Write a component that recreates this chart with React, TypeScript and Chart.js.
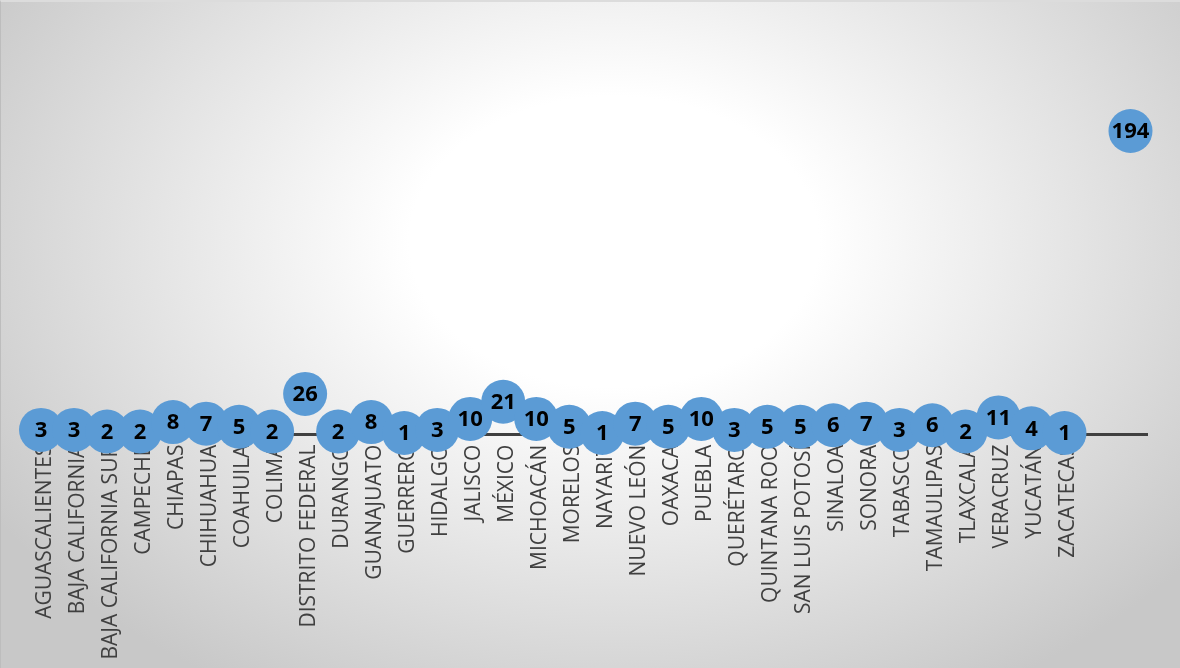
import React, { useEffect, useRef } from "react";
import { Chart, registerables } from "chart.js";

Chart.register(...registerables);

const categories: string[] = [
  "AGUASCALIENTES", "BAJA CALIFORNIA", "BAJA CALIFORNIA SUR", "CAMPECHE", "CHIAPAS",
  "CHIHUAHUA", "COAHUILA", "COLIMA", "DISTRITO FEDERAL", "DURANGO", "GUANAJUATO",
  "GUERRERO", "HIDALGO", "JALISCO", "MÉXICO", "MICHOACÁN", "MORELOS", "NAYARIT",
  "NUEVO LEÓN", "OAXACA", "PUEBLA", "QUERÉTARO", "QUINTANA ROO", "SAN LUIS POTOSÍ",
  "SINALOA", "SONORA", "TABASCO", "TAMAULIPAS", "TLAXCALA", "VERACRUZ", "YUCATÁN",
  "ZACATECAS", "", "",
];

const values: (number | null)[] = [
  3, 3, 2, 2, 8, 7, 5, 2, 26, 2, 8, 1, 3, 10, 21, 10, 5, 1, 7, 5, 10, 3, 5, 5, 6, 7, 3, 6,
  2, 11, 4, 1, null, 194,
];

const yMin = 0;
const yMax = 200;

const W = 1180;
const H = 668;
const AXIS_Y = 432.6;

const labelPlugin = {
  id: "pointLabels",
  afterDatasetsDraw(chart: any) {
    const ctx = chart.ctx;
    const meta = chart.getDatasetMeta(0);
    ctx.save();
    ctx.font = "bold 22px 'Open Sans'";
    ctx.fillStyle = "#000000";
    ctx.textAlign = "center";
    ctx.textBaseline = "middle";
    meta.data.forEach((pt: any, i: number) => {
      const v = values[i];
      if (v === null || v === undefined) return;
      ctx.fillText(String(v), pt.x, pt.y + 1);
    });
    ctx.restore();
  },
};

export default function App() {
  const ref = useRef<HTMLCanvasElement | null>(null);

  useEffect(() => {
    if (!ref.current) return;
    const chart = new Chart(ref.current, {
      type: "line",
      data: {
        labels: categories,
        datasets: [
          {
            data: values,
            showLine: false,
            pointRadius: 22,
            pointHoverRadius: 22,
            pointBackgroundColor: "#5B9BD5",
            pointBorderColor: "#5B9BD5",
            pointBorderWidth: 0,
            clip: false as any,
          },
        ],
      },
      options: {
        responsive: false,
        animation: false,
        layout: {
          padding: { left: 23.5, right: 34, top: AXIS_Y - 313, bottom: 0 },
        },
        plugins: {
          legend: { display: false },
          tooltip: { enabled: false },
          title: { display: false },
        },
        scales: {
          y: {
            display: false,
            min: yMin,
            max: yMax,
          },
          x: {
            offset: true,
            grid: { display: false, drawTicks: false },
            border: { display: true, color: "#404040", width: 3 },
            afterFit: (scale: any) => {
              scale.height = H - AXIS_Y;
            },
            ticks: {
              autoSkip: false,
              minRotation: 90,
              maxRotation: 90,
              padding: 10,
              labelOffset: 4,
              color: "#404040",
              font: { family: "'Open Sans'", size: 21 },
            },
          },
        },
      },
      plugins: [labelPlugin],
    });
    return () => chart.destroy();
  }, []);

  return (
    <div
      style={{
        position: "absolute",
        left: 0,
        top: 0,
        width: W,
        height: H,
        boxSizing: "border-box",
        borderTop: "2px solid #dcdcdc",
        borderLeft: "1px solid #bdbdbd",
        background:
          "radial-gradient(ellipse 62% 78% at 52% 36%, #ffffff 0%, #ffffff 28%, #c8c8c8 100%)",
      }}
    >
      <canvas ref={ref} width={W} height={H} style={{ position: "absolute", left: 0, top: 0 }} />
    </div>
  );
}
